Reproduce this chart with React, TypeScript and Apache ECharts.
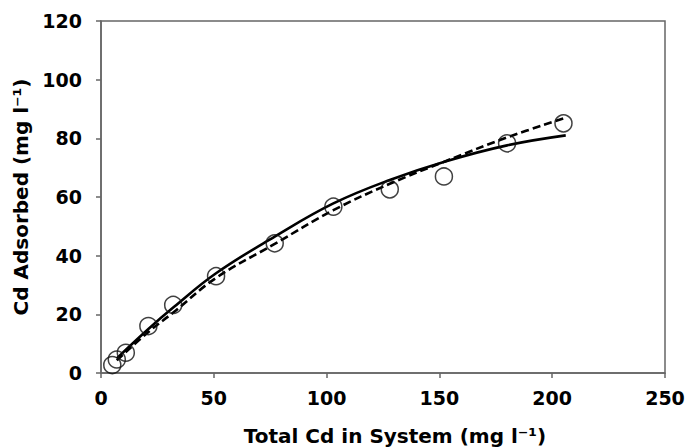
import React, { useEffect, useRef } from "react";
import * as echarts from "echarts";

// Observed data points (Total Cd, Cd adsorbed)
const obsX = [5, 7, 11, 21, 32, 51, 77, 103, 128, 152, 180, 205];
const obsY = [2.7, 4.6, 6.9, 16, 23.2, 33, 44.2, 56.7, 62.6, 67, 78.3, 85.1];

// Solid fitted curve
const solidX = [7, 21, 32, 51, 77, 103, 128, 153, 180, 206];
const solidY = [5, 15, 22.3, 34, 46.5, 57.8, 65.8, 72.2, 77.6, 81];

// Dashed fitted curve
const dashX = [7, 21, 32, 51, 77, 103, 128, 153, 180, 206];
const dashY = [4.3, 14, 20.6, 32.4, 44, 55.5, 64.5, 72.3, 80.3, 87];

const xTitle = "Total Cd in System (mg l\u207B\u00B9)";
const yTitle = "Cd Adsorbed (mg l\u207B\u00B9)";

const FONT = "DejaVu Sans";
const AXIS_GREY = "#666666";

export default function App() {
  const ref = useRef<HTMLDivElement>(null);
  useEffect(() => {
    if (!ref.current) return;
    const chart = echarts.init(ref.current, undefined, { renderer: "svg" });
    const zip = (xs: number[], ys: number[]) => xs.map((x, i) => [x, ys[i]]);
    chart.setOption({
      animation: false,
      backgroundColor: "#ffffff",
      grid: {
        left: 101,
        right: 22,
        top: 21,
        bottom: 74,
        containLabel: false,
        outerBoundsMode: "none",
        show: true,
        borderColor: AXIS_GREY,
        borderWidth: 1.5,
      },
      xAxis: {
        type: "value",
        min: 0,
        max: 250,
        interval: 50,
        name: xTitle,
        nameLocation: "middle",
        nameGap: 53,
        nameTextStyle: {
          fontFamily: FONT,
          fontWeight: "bold",
          fontSize: 20,
          color: "#000",
          padding: [0, 0, 0, 24],
        },
        axisLine: { show: true, lineStyle: { color: AXIS_GREY, width: 1.5 } },
        axisTick: { show: true, inside: false, length: 5, lineStyle: { color: AXIS_GREY, width: 1.5 } },
        axisLabel: { fontFamily: FONT, fontWeight: "bold", fontSize: 19, color: "#000", margin: 15 },
        splitLine: { show: false },
      },
      yAxis: {
        type: "value",
        min: 0,
        max: 120,
        interval: 20,
        name: yTitle,
        nameLocation: "middle",
        nameGap: 66,
        nameTextStyle: {
          fontFamily: FONT,
          fontWeight: "bold",
          fontSize: 20,
          color: "#000",
        },
        axisLine: { show: true, lineStyle: { color: AXIS_GREY, width: 1.5 } },
        axisTick: { show: true, inside: false, length: 5, lineStyle: { color: AXIS_GREY, width: 1.5 } },
        axisLabel: { fontFamily: FONT, fontWeight: "bold", fontSize: 19, color: "#000", margin: 19 },
        splitLine: { show: false },
      },
      series: [
        {
          type: "line",
          data: zip(solidX, solidY),
          smooth: 0.4,
          showSymbol: false,
          lineStyle: { color: "#000", width: 2.6, type: "solid" },
          z: 3,
        },
        {
          type: "line",
          data: zip(dashX, dashY),
          smooth: 0.4,
          showSymbol: false,
          lineStyle: { color: "#000", width: 2.6, type: [8, 4] },
          z: 3,
        },
        {
          type: "scatter",
          data: zip(obsX, obsY),
          symbol: "circle",
          symbolSize: 17,
          itemStyle: { color: "rgba(0,0,0,0)", borderColor: "#111", borderWidth: 1.5 },
          z: 4,
        },
      ],
    });
    return () => chart.dispose();
  }, []);
  return <div ref={ref} style={{ width: 687, height: 447, position: "absolute", left: 0, top: 0 }} />;
}
